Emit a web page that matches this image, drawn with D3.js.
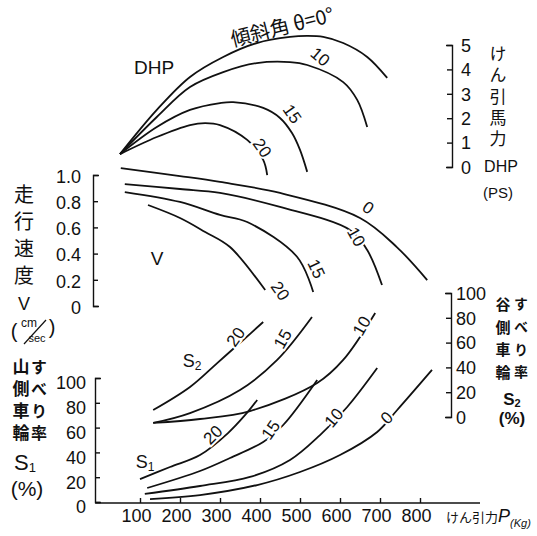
<!DOCTYPE html>
<html><head><meta charset="utf-8">
<script src="https://cdn.jsdelivr.net/npm/d3@7"></script>
<style>
body{margin:0;background:#fff}
svg{display:block}
.num{font-family:"Liberation Sans","Arimo",sans-serif;font-size:18px;fill:#111}
.jp{font-family:"Noto Sans CJK JP",sans-serif;fill:#111}
.vt{font-family:"Noto Sans CJK JP",sans-serif;fill:#111;writing-mode:vertical-rl;text-orientation:upright}
.lbl{font-family:"Liberation Sans",sans-serif;font-size:17px;fill:#111;stroke:#fff;stroke-width:4px;paint-order:stroke;text-anchor:middle;dominant-baseline:central}
</style>
</head><body><svg id="c" width="537" height="536"></svg>
<script>
// ---------- data (pull P in kg) ----------
const xTicks = [100,200,300,400,500,600,700,800];
const dhpTicks = [0,1,2,3,4,5];
const vTicks = [0,0.2,0.4,0.6,0.8,1.0];
const sTicks = [0,20,40,60,80,100];

// drawbar horsepower DHP (PS) vs pull, by slope angle
const dhp0  = [[50,0.53],[142,2.34],[225,3.69],[308,4.51],[392,5.08],[475,5.33],[518,5.37],[558,5.33],[608,5.08],[668,4.51],[718,3.65]];
const dhp10 = [[50,0.53],[142,2.05],[225,3.28],[308,3.89],[392,4.26],[475,4.30],[518,4.18],[608,3.48],[643,2.75],[668,1.64]];
const dhp15 = [[50,0.53],[142,1.64],[225,2.34],[300,2.62],[333,2.66],[408,2.42],[450,2.01],[480,1.39],[500,0.70],[518,-0.20]];
const dhp20 = [[50,0.53],[142,1.23],[225,1.72],[263,1.80],[300,1.72],[368,1.11],[408,0.29],[418,-0.33]];

// travel speed V (cm/sec scale as printed)
const v0  = [[52,1.053],[200,0.992],[300,0.947],[450,0.863],[650,0.672],[742,0.45],[818,0.198]];
const v10 = [[62,0.931],[200,0.893],[300,0.863],[450,0.756],[625,0.580],[668,0.427],[705,0.160]];
const v15 = [[62,0.870],[200,0.794],[300,0.695],[368,0.641],[493,0.374],[533,0.107]];
const v20 = [[120,0.771],[200,0.672],[263,0.565],[325,0.450],[413,0.122]];

// mountain-side wheel slip S1 (%)
const s1_0  = [[125,2.4],[250,5.6],[393,13.7],[500,24.2],[600,37.9],[693,56.5],[743,74.2],[830,106.5]];
const s1_10 = [[112,6.5],[250,12.9],[375,20.2],[475,33.9],[550,54],[618,76.6],[693,108]];
const s1_15 = [[118,11.3],[250,25],[325,35.5],[408,48.4],[458,62.1],[543,98.4]];
const s1_20 = [[100,18.5],[175,28.2],[250,37.9],[320,55.6],[363,70.2],[393,82.3]];

// valley-side wheel slip S2 (%)
const s2_10 = [[133,-4.8],[250,-1.6],[375,4.8],[543,27.4],[608,46],[688,83.9]];
const s2_15 = [[133,-4.8],[225,3.2],[350,21.8],[443,46],[530,80.6]];
const s2_20 = [[133,5.6],[225,24.2],[293,43.5],[358,62.1],[408,76.6]];

// ---------- scales ----------
const svg = d3.select("#c");
const x = d3.scaleLinear().domain([0,1000]).range([100,500]);
const yD = d3.scaleLinear().domain([0,5]).range([167,45]);
const yV = d3.scaleLinear().domain([0,1]).range([306,175]);
const yS1 = d3.scaleLinear().domain([0,100]).range([502,378]);
const yS2 = d3.scaleLinear().domain([0,100]).range([417,293]);

function curve(data, ys){
  svg.append("path").datum(data)
    .attr("fill","none").attr("stroke","#111").attr("stroke-width",1.8)
    .attr("d", d3.line().x(d=>x(d[0])).y(d=>ys(d[1])).curve(d3.curveCatmullRom.alpha(0.5)));
}
[dhp0,dhp10,dhp15,dhp20].forEach(d=>curve(d,yD));
[v0,v10,v15,v20].forEach(d=>curve(d,yV));
[s1_0,s1_10,s1_15,s1_20].forEach(d=>curve(d,yS1));
[s2_10,s2_15,s2_20].forEach(d=>curve(d,yS2));

// ---------- axes ----------
function styleAxis(g){
  g.selectAll("path,line").attr("stroke","#111").attr("stroke-width",1.4);
  g.selectAll("text").attr("class","num").attr("fill","#111");
}
// V axis (left)
svg.append("g").attr("transform","translate(93,0)")
  .call(d3.axisLeft(yV).tickValues(vTicks).tickSize(-5).tickSizeOuter(-6).tickPadding(12)
        .tickFormat(d=>d===0?"0":d3.format(".1f")(d)))
  .call(styleAxis).call(g=>g.selectAll("text").attr("dy","0.4em"));
// S1 axis (left)
svg.append("g").attr("transform","translate(95,0)")
  .call(d3.axisLeft(yS1).tickValues(sTicks).tickSize(-5).tickSizeOuter(-6).tickPadding(9).tickFormat(d3.format("d")))
  .call(styleAxis).call(g=>g.selectAll("text").attr("dy","0.6em"));
// DHP axis (right)
svg.append("g").attr("transform","translate(452,0)")
  .call(d3.axisRight(yD).tickValues(dhpTicks).tickSize(-5).tickSizeOuter(-6).tickPadding(9).tickFormat(d3.format("d")))
  .call(styleAxis).call(g=>g.selectAll("text").attr("dy","0.35em"));
// S2 axis (right)
svg.append("g").attr("transform","translate(451,0)")
  .call(d3.axisRight(yS2).tickValues(sTicks).tickSize(-5).tickSizeOuter(-6).tickPadding(5).tickFormat(d3.format("d")))
  .call(styleAxis).call(g=>g.selectAll("text").attr("dy","0.35em"));
// P axis (bottom)
const gx = svg.append("g").attr("transform","translate(0,503)")
  .call(d3.axisBottom(x).tickValues(xTicks).tickSize(-5).tickPadding(6).tickFormat(d3.format("d")))
  .call(styleAxis);
gx.select(".domain").remove();
gx.selectAll("text").attr("dx","-4");
svg.append("line").attr("x1",x(-12)).attr("x2",x(950)).attr("y1",503).attr("y2",503)
  .attr("stroke","#111").attr("stroke-width",1.4);

// ---------- curve labels ----------
function lbl(t,px,py,rot,size){
  svg.append("text").attr("class","lbl").attr("transform",`translate(${px},${py}) rotate(${rot})`)
    .style("font-size",(size||17)+"px").text(t);
}
lbl("10",320,57,40); lbl("15",292,114,55); lbl("20",262,148,55);
lbl("0",368,208,35); lbl("10",356,237,60); lbl("15",316,269,65); lbl("20",280,291,55);
lbl("20",236,337,-55); lbl("15",283,339,-60); lbl("10",362,326,-60);
lbl("20",213,435,-45); lbl("15",271,430,-55); lbl("10",334,418,-50); lbl("0",387,418,-45);

// ---------- titles ----------
svg.append("text").attr("class","jp").attr("transform","translate(284,34) rotate(-14)")
  .attr("text-anchor","middle").style("font-size","20px").text("傾斜角 θ=0°");
svg.append("text").attr("class","num").attr("x",154).attr("y",74).attr("text-anchor","middle").style("font-size","19px").text("DHP");
svg.append("text").attr("class","num").attr("x",157).attr("y",265).attr("text-anchor","middle").style("font-size","19px").text("V");
svg.append("text").attr("class","num").attr("x",192).attr("y",367).attr("text-anchor","middle").style("font-size","18px")
  .html('S<tspan font-size="12" dy="3">2</tspan>');
svg.append("text").attr("class","num").attr("x",145).attr("y",468).attr("text-anchor","middle").style("font-size","18px")
  .html('S<tspan font-size="12" dy="3">1</tspan>');

// vertical Japanese text columns
function column(str, cx, top, size, spacing, weight){
  svg.append("text").attr("class","vt").attr("x",cx).attr("y",top)
    .style("font-size",size+"px").style("letter-spacing",spacing+"px")
    .style("font-weight",weight||400).text(str);
}
// DHP axis title
column("けん引馬力",498,45,17,4.3);
svg.append("text").attr("class","num").attr("x",501).attr("y",172).attr("text-anchor","middle").style("font-size","16px").text("DHP");
svg.append("text").attr("class","num").attr("x",498).attr("y",198).attr("text-anchor","middle").style("font-size","15px").text("(PS)");
// V axis title
column("走行速度",24,184,20,7);
svg.append("text").attr("class","num").attr("x",24).attr("y",310).attr("text-anchor","middle").style("font-size","18px").text("V");
svg.append("text").attr("class","num").attr("x",14).attr("y",338).attr("text-anchor","middle").style("font-size","20px").text("(");
svg.append("text").attr("class","num").attr("x",29).attr("y",327).attr("text-anchor","middle").style("font-size","12px").text("cm");
svg.append("text").attr("class","num").attr("x",37).attr("y",342).attr("text-anchor","middle").style("font-size","11px").text("sec");
svg.append("text").attr("class","num").attr("x",52).attr("y",334).attr("text-anchor","middle").style("font-size","20px").text(")");
svg.append("line").attr("x1",24).attr("y1",344).attr("x2",46).attr("y2",320).attr("stroke","#111").attr("stroke-width",1.2);
// S1 title
column("山側車輪",21,358,17,5,700);
column("すべり率",39,359,16,6,700);
svg.append("text").attr("class","num").attr("x",25).attr("y",470).attr("text-anchor","middle").style("font-size","22px")
  .html('S<tspan font-size="13" dy="2">1</tspan>');
svg.append("text").attr("class","num").attr("x",27).attr("y",496).attr("text-anchor","middle").style("font-size","21px").text("(%)");
// S2 title
column("谷側車輪",503,297,15,7.6,700);
column("すべり率",521,297,14,8.6,700);
svg.append("text").attr("class","num").attr("x",512).attr("y",405).attr("text-anchor","middle").style("font-size","17px").style("font-weight",700)
  .html('S<tspan font-size="11" dy="2">2</tspan>');
svg.append("text").attr("class","num").attr("x",512).attr("y",424).attr("text-anchor","middle").style("font-size","17px").style("font-weight",700).text("(%)");
// P axis title
const pt = svg.append("text").attr("x",446).attr("y",522);
pt.append("tspan").attr("class","jp").style("font-size","13px").text("けん引力");
pt.append("tspan").attr("class","num").style("font-size","18px").style("font-style","italic").text("P");
pt.append("tspan").attr("class","num").style("font-size","11px").style("font-style","italic").attr("dy","5").text("(Kg)");
</script>
</body></html>
